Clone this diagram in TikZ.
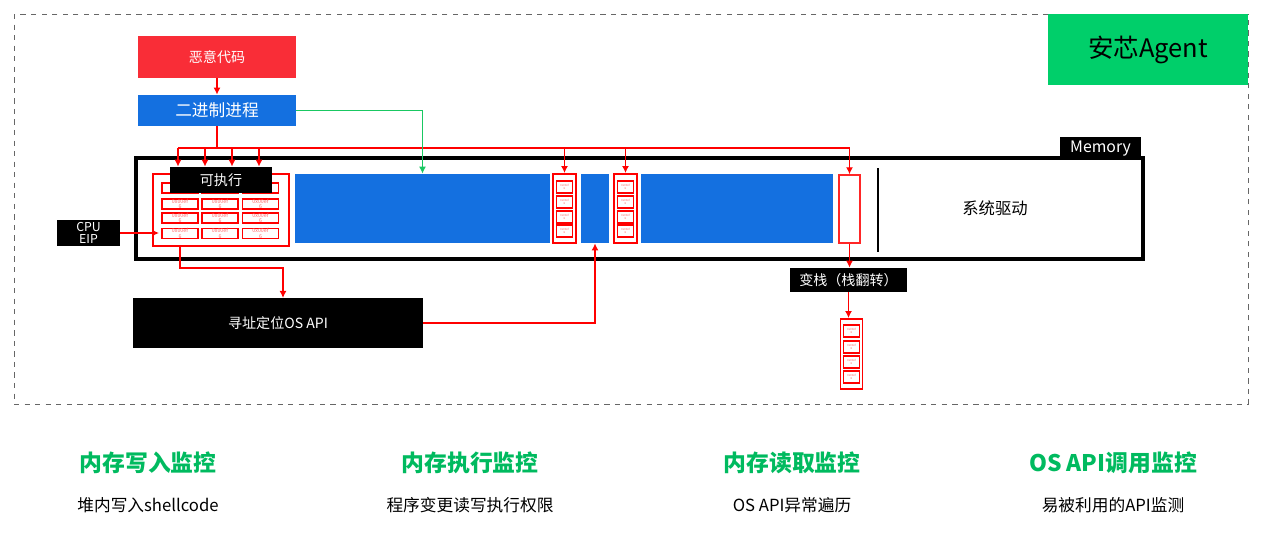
\documentclass[tikz,border=0pt]{standalone}
\usepackage{fontspec}
\setmainfont{Noto Sans CJK SC}
\usetikzlibrary{arrows.meta}
\definecolor{alertred}{HTML}{F92D37}
\definecolor{procblue}{HTML}{1470E0}
\definecolor{agentgreen}{HTML}{00CF6A}
\definecolor{linegreen}{HTML}{19C862}
\tikzset{blackbox/.style={fill=black,text=white,inner sep=0pt,font=\fontsize{8}{9}\selectfont}}
\tikzset{bluebox/.style={fill=procblue,inner sep=0pt}}
\tikzset{redframe/.style={draw=red,line width=1.1pt,fill=white,inner sep=0pt}}
\tikzset{cellbox/.style={draw=red,line width=0.9pt,fill=white,inner sep=0pt,minimum width=0.72cm,minimum height=0.2cm,text=red!60,align=center,font=\fontsize{3}{3}\selectfont}}
\tikzset{minicell/.style={draw=red,line width=0.9pt,fill=white,inner sep=0pt,minimum width=0.32cm,minimum height=0.24cm,text=red!60,align=center,font=\fontsize{1.6}{1.8}\selectfont}}
\tikzset{redarrow/.style={draw=red,line width=1.1pt,-{Latex[length=4pt,width=4pt]}}}
\tikzset{heading/.style={text=agentgreen!90!black,font=\fontsize{13}{15}\selectfont\bfseries}}
\tikzset{subline/.style={font=\fontsize{9.5}{11}\selectfont}}

\begin{document}
\begin{tikzpicture}[x=0.02cm,y=-0.02cm]
\useasboundingbox (0,0) rectangle (1267,532);

% Agent boundary and its tag
\draw[gray!80!black,dashed,line width=0.5pt] (14,14) rectangle (1248,404);
\node[fill=agentgreen,minimum width=4cm,minimum height=1.42cm,inner sep=0pt,font=\fontsize{14.5}{16}\selectfont] at (1148,49.5) (agent) {安芯Agent};

% Malicious code and the binary process
\node[fill=alertred,text=white,minimum width=3.16cm,minimum height=0.84cm,inner sep=0pt,font=\fontsize{8}{9}\selectfont] at (217,57) (malware) {恶意代码};
\node[bluebox,text=white,minimum width=3.16cm,minimum height=0.62cm,font=\fontsize{9.5}{10}\selectfont] at (217,110.5) (binproc) {二进制进程};
\draw[redarrow] (malware) -- (binproc);

% Memory frame
\node[draw=black,line width=2.5pt,fill=white,minimum width=20.14cm,minimum height=2.02cm,inner sep=0pt] at (639.5,208.5) (memory) {};
\node[blackbox,minimum width=1.62cm,minimum height=0.46cm,font=\fontsize{9}{10}\selectfont] at (1100.5,148.5) (memlbl) {Memory};

% Executable region with its cells (top row sits under the label)
\node[redframe,minimum width=2.72cm,minimum height=1.44cm] at (221,210) (execbox) {};
\foreach \c/\x in {1/180,2/220,3/260.5} {
  \node[cellbox] at (\x,188) (g\c1) {};
  \foreach \r/\y in {2/204,3/218,4/233.5}
    \node[cellbox] at (\x,\y) (g\c\r) {0x00ef\\6};
}
\node[blackbox,minimum width=2.04cm,minimum height=0.52cm] at (221,180) (execlbl) {可执行};

% Blue memory blocks
\node[bluebox,minimum width=5.1cm,minimum height=1.38cm] at (422.5,208.5) (blueA) {};
\node[bluebox,minimum width=0.56cm,minimum height=1.38cm] at (595,208.5) (blueB) {};
\node[bluebox,minimum width=3.84cm,minimum height=1.38cm] at (737,208.5) (blueC) {};

% Two cell columns between the blue blocks
\node[redframe,minimum width=0.46cm,minimum height=1.38cm] at (564.5,208.5) (colA) {};
\node[redframe,minimum width=0.46cm,minimum height=1.38cm] at (625.5,208.5) (colB) {};
\foreach \y in {187,202,217,231} {
  \node[minicell] at (564.5,\y) (ca\y) {0x00ef\\6};
  \node[minicell] at (625.5,\y) (cb\y) {0x00ef\\6};
}

% Stack slot, divider and drivers
\node[draw=red!85,line width=0.8pt,fill=white,minimum width=0.42cm,minimum height=1.36cm,inner sep=0pt] at (849.5,209) (stack) {};
\coordinate (divtop) at (878,168);
\coordinate (divbot) at (878,252);
\draw[line width=1.2pt] (divtop) -- (divbot);
\node[font=\fontsize{9.3}{10}\selectfont] at (995,208) (sysdrv) {系统驱动};

% CPU EIP
\node[blackbox,minimum width=1.26cm,minimum height=0.52cm,align=center,font=\fontsize{7}{7.2}\selectfont] at (88.5,233) (cpu) {CPU\\EIP};
\draw[redarrow] (cpu.east) -- ([xshift=0.14cm]cpu.east -| execbox.west);

% OS API lookup
\node[blackbox,minimum width=5.8cm,minimum height=1cm] at (278,323) (api) {寻址定位OS API};

% Stack pivot
\node[blackbox,minimum width=2.34cm,minimum height=0.48cm] at (848.5,280) (flip) {变栈（栈翻转）};
\node[redframe,minimum width=0.44cm,minimum height=1.4cm] at (851.5,354) (stack2) {};
\foreach \y in {331,347,362,377}
  \node[minicell] at (851.5,\y) (sc\y) {0x00ef\\6};

% Bus from the binary process into memory
\coordinate (bus) at (217,148);
\coordinate (busL) at (178,148);
\draw[draw=red,line width=1.1pt] (binproc.south) -- (bus);
\draw[draw=red,line width=1.1pt] (busL) -- (bus -| stack);
\foreach \i/\x in {1/178,2/205,3/232,4/259} {
  \coordinate (b\i) at (\x,148);
  \draw[redarrow] (b\i) -- (b\i |- execlbl.north);
}
\draw[redarrow] (bus -| colA) -- (colA.north);
\draw[redarrow] (bus -| colB) -- (colB.north);
\draw[redarrow] (bus -| stack) -- (stack.north);

% Green link to the heap block
\draw[draw=linegreen,line width=1.1pt,-{Latex[length=4pt,width=4pt]}] (binproc.east) -| (blueA.north);

% Executable to API lookup, then back into memory
\coordinate (turn) at (180,268);
\coordinate (apiin) at (283,298);
\draw[redarrow] (execbox.south -| turn) -- (turn) -| (apiin);
\draw[redarrow] (api.east) -| (blueB.south);

% Stack pivot chain
\draw[redarrow] (stack.south) -- (stack.south |- flip.north);
\draw[redarrow] (flip.south) -- (flip.south |- stack2.north);

% Monitoring points
\node[heading] at (148,463) (h1) {内存写入监控};
\node[heading] at (470,463) (h2) {内存执行监控};
\node[heading] at (792,463) (h3) {内存读取监控};
\node[heading] at (1113,463) (h4) {OS API调用监控};
\node[subline] at (148,505) (s1) {堆内写入shellcode};
\node[subline] at (470,505) (s2) {程序变更读写执行权限};
\node[subline] at (792,505) (s3) {OS API异常遍历};
\node[subline] at (1113,505) (s4) {易被利用的API监测};

\end{tikzpicture}
\end{document}
